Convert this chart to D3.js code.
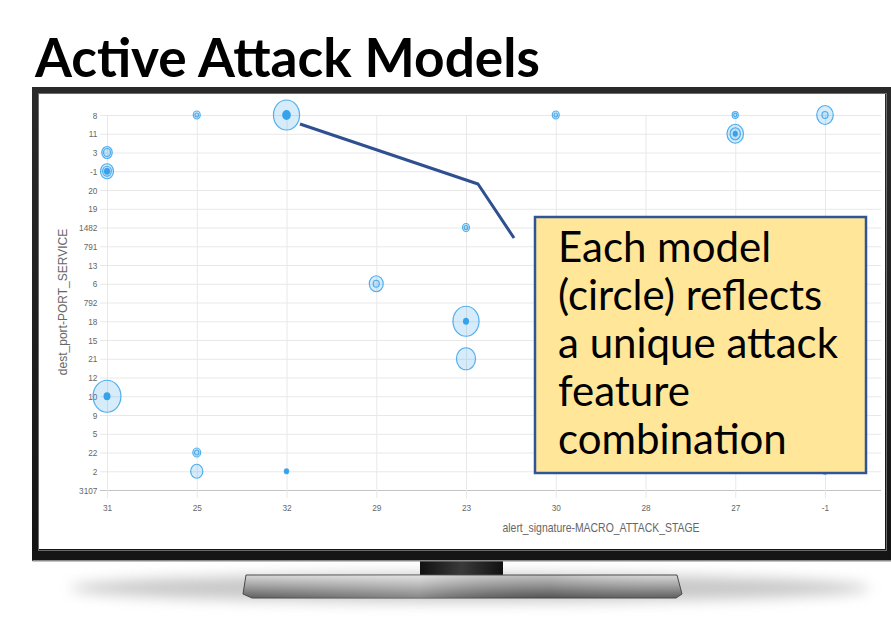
<!DOCTYPE html>
<html>
<head>
<meta charset="utf-8">
<script src="https://cdn.jsdelivr.net/npm/d3@7"></script>
<style>
  html, body { margin: 0; padding: 0; background: #fff; }
  svg { display: block; }
</style>
</head>
<body>
<svg id="chart" width="891" height="618"></svg>
<script>
// categories on the two axes
const stageLabels = ["31", "25", "32", "29", "23", "30", "28", "27", "-1"];
const portLabels = ["8", "11", "3", "-1", "20", "19", "1482", "791", "13", "6", "792",
                    "18", "15", "21", "12", "10", "9", "5", "22", "2", "3107"];

// one entry per attack model
const modelStage = ["31", "31", "25", "32", "30", "27", "27", "-1", "23", "29", "23", "23", "31", "25", "25", "32", "-1"];
const modelPort  = ["3", "-1", "8", "8", "8", "8", "11", "8", "1482", "6", "18", "21", "10", "22", "2", "2", "2"];
const modelSize  = [6, 7.5, 4, 15, 4, 3.5, 9.5, 9.5, 4, 8, 15, 11, 16, 4.5, 7, 2.5, 3];
const modelInner = [4, 5, 2, 0, 2, 1.8, 6, 3.5, 2, 3.5, 0, 0, 0, 2.5, 0, 0, 0];
const modelCore  = [0, 3.5, 0, 5, 0, 0, 3, 0, 0, 0, 3.5, 0, 4, 0, 0, 2.5, 3];

const calloutLines = ["Each model", "(circle) reflects", "a unique attack", "feature", "combination"];

const svg = d3.select("#chart");
const squish = 0.87; // screenshot is a bit compressed sideways

const defs = svg.append("defs");
defs.append("filter").attr("id", "blur").attr("x", "-20%").attr("y", "-200%")
    .attr("width", "140%").attr("height", "500%")
  .append("feGaussianBlur").attr("stdDeviation", 7);

const baseGrad = defs.append("linearGradient").attr("id", "baseGrad")
    .attr("x1", 0).attr("y1", 0).attr("x2", 0).attr("y2", 1);
baseGrad.append("stop").attr("offset", "0%").attr("stop-color", "#d9d9d9");
baseGrad.append("stop").attr("offset", "45%").attr("stop-color", "#a3a3a3");
baseGrad.append("stop").attr("offset", "100%").attr("stop-color", "#5e5e5e");

const baseShine = defs.append("linearGradient").attr("id", "baseShine")
    .attr("x1", 0).attr("y1", 0).attr("x2", 1).attr("y2", 0);
baseShine.append("stop").attr("offset", "0%").attr("stop-color", "#fff").attr("stop-opacity", 0);
baseShine.append("stop").attr("offset", "40%").attr("stop-color", "#fff").attr("stop-opacity", 0.25);
baseShine.append("stop").attr("offset", "70%").attr("stop-color", "#000").attr("stop-opacity", 0.1);
baseShine.append("stop").attr("offset", "100%").attr("stop-color", "#fff").attr("stop-opacity", 0);

const neckGrad = defs.append("linearGradient").attr("id", "neckGrad")
    .attr("x1", 0).attr("y1", 0).attr("x2", 1).attr("y2", 0);
neckGrad.append("stop").attr("offset", "0%").attr("stop-color", "#111");
neckGrad.append("stop").attr("offset", "50%").attr("stop-color", "#3a3a3a");
neckGrad.append("stop").attr("offset", "100%").attr("stop-color", "#111");

const bezelGrad = defs.append("linearGradient").attr("id", "bezelGrad")
    .attr("x1", 0).attr("y1", 0).attr("x2", 0).attr("y2", 1);
bezelGrad.append("stop").attr("offset", "0%").attr("stop-color", "#2a2a2a");
bezelGrad.append("stop").attr("offset", "100%").attr("stop-color", "#141414");

// title
const title = svg.append("text")
    .attr("x", 35).attr("y", 77)
    .style("font-family", "Lato, 'Open Sans', sans-serif")
    .style("font-weight", 700)
    .style("font-size", "46px")
    .attr("fill", "#000")
    .text("Active Attack Models");
const tw = title.node().getComputedTextLength();
title.style("font-size", (46 * 505 / tw) + "px");

// tv: shadow, stand, bezel, screen
svg.append("ellipse")
    .attr("cx", 470).attr("cy", 588).attr("rx", 400).attr("ry", 14)
    .attr("fill", "#9a9a9a").attr("opacity", 0.55)
    .attr("filter", "url(#blur)");

svg.append("rect")
    .attr("x", 420).attr("y", 556).attr("width", 83).attr("height", 20)
    .attr("fill", "url(#neckGrad)");

const basePts = [[246, 575], [677, 575], [682, 594], [676, 598], [252, 598], [243, 594]];
svg.append("polygon")
    .attr("points", basePts.map(p => p.join(",")).join(" "))
    .attr("fill", "url(#baseGrad)")
    .attr("stroke", "#4a4a4a").attr("stroke-width", 1);
svg.append("polygon")
    .attr("points", basePts.map(p => p.join(",")).join(" "))
    .attr("fill", "url(#baseShine)");

svg.append("rect")
    .attr("x", 32).attr("y", 87).attr("width", 870).attr("height", 474)
    .attr("fill", "url(#bezelGrad)");
svg.append("rect")
    .attr("x", 32.5).attr("y", 560).attr("width", 870).attr("height", 1.5)
    .attr("fill", "#8a8a8a");
svg.append("rect")
    .attr("x", 38.5).attr("y", 93.5).attr("width", 848).attr("height", 457)
    .attr("fill", "none").attr("stroke", "#6b6b6b").attr("stroke-width", 1);
svg.append("rect")
    .attr("x", 39).attr("y", 94).attr("width", 846).attr("height", 455)
    .attr("fill", "#fff");

// chart
const x = d3.scalePoint().domain(stageLabels).range([107, 825]);
const y = d3.scalePoint().domain(portLabels).range([115, 490]);
const r = d3.scaleLinear().domain([0, 16]).range([0, 16]);

const grid = svg.append("g");
grid.selectAll("line.h")
  .data(portLabels)
  .join("line")
    .attr("class", "h")
    .attr("x1", 100).attr("x2", 881)
    .attr("y1", d => y(d) + 0.5).attr("y2", d => y(d) + 0.5)
    .attr("stroke", d => d === "3107" ? "#c4c4c4" : "#e8e8e8")
    .attr("stroke-width", 1);
grid.selectAll("line.v")
  .data(stageLabels)
  .join("line")
    .attr("class", "v")
    .attr("x1", d => x(d) + 0.5).attr("x2", d => x(d) + 0.5)
    .attr("y1", 115).attr("y2", 498)
    .attr("stroke", "#e8e8e8")
    .attr("stroke-width", 1);

const yAxis = svg.append("g")
    .attr("transform", "translate(100,0)")
    .call(d3.axisLeft(y).tickSize(0).tickPadding(3));
const xAxis = svg.append("g")
    .attr("transform", "translate(0,490)")
    .call(d3.axisBottom(x).tickSize(0).tickPadding(14));
[yAxis, xAxis].forEach(g => {
  g.select(".domain").remove();
  g.selectAll("text")
    .attr("fill", "#666")
    .style("font-family", "'Liberation Sans', Arial, sans-serif")
    .style("font-size", "9.5px");
});
yAxis.selectAll("text").attr("transform", `scale(${squish},1)`);
xAxis.selectAll("text").attr("transform", `scale(${squish},1)`);

svg.append("text")
    .attr("transform", `translate(601,532) scale(${squish},1)`)
    .attr("text-anchor", "middle")
    .attr("fill", "#666")
    .style("font-family", "'Liberation Sans', Arial, sans-serif")
    .style("font-size", "12px")
    .text("alert_signature-MACRO_ATTACK_STAGE");

svg.append("text")
    .attr("transform", "translate(67,302) rotate(-90)")
    .attr("text-anchor", "middle")
    .attr("fill", "#666")
    .style("font-family", "'Liberation Sans', Arial, sans-serif")
    .style("font-size", "12px")
    .text("dest_port-PORT_SERVICE");

const models = modelStage.map((s, i) => ({
  stage: s, port: modelPort[i], size: modelSize[i], inner: modelInner[i], core: modelCore[i]
}));

const bubbles = svg.append("g");
bubbles.selectAll("ellipse.outer")
  .data(models)
  .join("ellipse")
    .attr("class", "outer")
    .attr("cx", d => x(d.stage)).attr("cy", d => y(d.port))
    .attr("rx", d => r(d.size) * squish).attr("ry", d => r(d.size))
    .attr("fill", "rgba(54,162,235,0.2)")
    .attr("stroke", "rgba(54,162,235,0.85)")
    .attr("stroke-width", 1.2);
bubbles.selectAll("ellipse.inner")
  .data(models.filter(d => d.inner > 0))
  .join("ellipse")
    .attr("class", "inner")
    .attr("cx", d => x(d.stage)).attr("cy", d => y(d.port))
    .attr("rx", d => r(d.inner) * squish).attr("ry", d => r(d.inner))
    .attr("fill", "rgba(54,162,235,0.12)")
    .attr("stroke", "rgba(54,162,235,0.85)")
    .attr("stroke-width", 1.2);
bubbles.selectAll("ellipse.core")
  .data(models.filter(d => d.core > 0))
  .join("ellipse")
    .attr("class", "core")
    .attr("cx", d => x(d.stage)).attr("cy", d => y(d.port))
    .attr("rx", d => r(d.core) * squish).attr("ry", d => r(d.core))
    .attr("fill", "#36a2eb");

// callout
svg.append("polyline")
    .attr("points", "300,124 478,184 514,238")
    .attr("fill", "none")
    .attr("stroke", "#2f5090")
    .attr("stroke-width", 3)
    .attr("stroke-linejoin", "round");

svg.append("rect")
    .attr("x", 535).attr("y", 217).attr("width", 331).attr("height", 256)
    .attr("fill", "#ffe699")
    .attr("stroke", "#2f5597")
    .attr("stroke-width", 2.5);

const callout = svg.append("g")
    .style("font-family", "Lato, 'Open Sans', sans-serif")
    .style("font-size", "34px")
    .attr("fill", "#000");
callout.selectAll("text")
  .data(calloutLines)
  .join("text")
    .attr("x", 558)
    .attr("y", (d, i) => 262 + i * 48)
    .text(d => d);
const widest = callout.selectAll("text").filter(d => d === "a unique attack").node().getComputedTextLength();
callout.style("font-size", (34 * 280 / widest) + "px");
</script>
</body>
</html>
